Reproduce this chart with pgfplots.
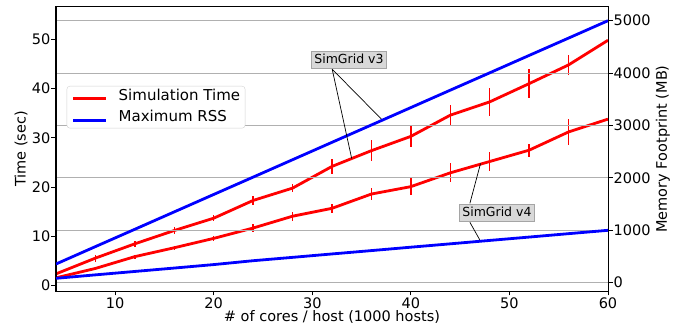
\documentclass[border=0pt]{standalone}
\usepackage{pgfplots}
\pgfplotsset{compat=1.18}
\usepackage{pgfplotstable}
\usepackage{fontspec}
\setmainfont{DejaVu Sans}
\definecolor{gridgray}{RGB}{176,176,176}
\definecolor{boxfill}{RGB}{216,216,216}
\definecolor{boxedge}{RGB}{165,165,165}
\definecolor{legedge}{RGB}{210,210,210}

% Simulation time (sec), with error
\pgfplotstableread{
x  v3   e3   v4   e4
4  2.4  0    1.6  0
8  5.6  0.7  3.5  0.3
12 8.5  0.6  5.9  0.4
16 11.2 0.7  7.7  0.4
20 13.7 0.6  9.6  0.5
24 17.3 0.9  11.7 0.9
28 19.8 0.8  14.1 0.9
32 24.2 1.5  15.7 0.9
36 27.4 2.1  18.6 1.2
40 30.3 2.2  20.1 1.7
44 34.6 2.1  22.9 1.9
48 37.3 2.9  25.2 2.0
52 41.0 3.0  27.5 1.3
56 44.8 2.1  31.2 2.6
60 49.8 0    33.8 0
}\timedata

% Maximum RSS (MB)
\pgfplotstableread{
x  m3   m4
4  357  84
8  689  150
12 1020 215
16 1352 280
20 1684 346
24 2015 420
28 2347 484
32 2679 549
36 3010 613
40 3342 678
44 3674 742
48 4005 807
52 4337 871
56 4668 936
60 5000 1000
}\memdata

\pgfplotsset{
  base/.style={
    scale only axis, width=552pt, height=284pt,
    at={(0,0)}, anchor=south west,
    xmin=4, xmax=60,
    axis line style={line width=1pt, black},
    tick style={line width=1pt, black},
    major tick length=4.5pt,
    tick align=outside,
    font=\fontsize{14.5}{17}\selectfont,
    /pgf/number format/assume math mode=true,
    /pgf/number format/1000 sep={},
    scaled y ticks=false,
  }
}

\begin{document}
\begin{tikzpicture}
\useasboundingbox (-56pt,-38pt) rectangle (626pt,291pt);

% ---------- left axis: simulation time ----------
\begin{axis}[base,
  ymin=-1.075, ymax=56.55,
  ytick={0,10,20,30,40,50},
  xtick={10,20,30,40,50,60},
  xtick pos=bottom, ytick pos=left,
  yticklabel pos=left,
  yticklabel style={inner xsep=1pt},
  xticklabel style={inner ysep=2pt},
  ylabel={Time (sec)},
  ylabel style={at={(axis description cs:-0.0634,0.5)}, anchor=center},
  xlabel={\# of cores / host (1000 hosts)},
  xlabel style={at={(axis description cs:0.5,-0.109)}, anchor=base},
]
\addplot[red, line width=2.8pt, line join=round,
  error bars/.cd, y dir=both, y explicit, error mark=none,
  error bar style={red, line width=1.3pt}]
  table[x=x, y=v3, y error=e3] {\timedata};
\addplot[red, line width=2.8pt, line join=round,
  error bars/.cd, y dir=both, y explicit, error mark=none,
  error bar style={red, line width=1.3pt}]
  table[x=x, y=v4, y error=e4] {\timedata};
\coordinate (r3) at (axis cs:34,25.8);
\coordinate (r4) at (axis cs:47.07,24.8);
\end{axis}

% ---------- right axis: memory ----------
\begin{axis}[base,
  ymin=-158, ymax=5261,
  ytick={0,1000,2000,3000,4000,5000},
  xtick=\empty,
  ytick pos=right, yticklabel pos=right,
  yticklabel style={inner xsep=1pt},
  ymajorgrids,
  major grid style={gridgray, line width=1pt},
  ylabel={Memory Footprint (MB)},
  ylabel style={at={(axis description cs:1.0996,0.5)}, anchor=center},
  legend style={at={(axis description cs:0.0194,0.722)}, anchor=north west,
    draw=legedge, rounded corners=3pt, fill=white,
    font=\fontsize{15}{17}\selectfont,
    inner xsep=5pt, inner ysep=3.2pt, row sep=7.6pt,
    nodes={inner sep=0pt, text height=11pt, text depth=3pt}},
  legend cell align=left,
  legend image code/.code={\draw[#1] (0pt,-2.5pt) -- (33pt,-2.5pt); \path (44pt,0pt);},
]
\addlegendimage{red, line width=2.8pt}
\addlegendentry{Simulation Time}
\addplot[blue, line width=2.8pt, line join=round] table[x=x, y=m3] {\memdata};
\addlegendentry{Maximum RSS}
\addplot[blue, line width=2.8pt, line join=round, forget plot] table[x=x, y=m4] {\memdata};
\coordinate (b3) at (axis cs:37,3124);
\coordinate (b4) at (axis cs:47.0,815);
\coordinate (s3) at (axis cs:32.02,4073);
\coordinate (s4a) at (axis cs:45.99,1515);
\coordinate (s4b) at (axis cs:45.99,1153);
\coordinate (c3) at (axis cs:33.72,4246);
\coordinate (c4) at (axis cs:48.73,1334);
\end{axis}

% ---------- annotations ----------
\draw[black, line width=0.7pt] (s3) -- (r3);
\draw[black, line width=0.7pt] (s3) -- (b3);
\draw[black, line width=0.7pt] (s4a) -- (r4);
\draw[black, line width=0.7pt] (s4b) -- (b4);
\node[fill=boxfill, draw=boxedge, line width=0.7pt, inner xsep=3pt, inner ysep=2.5pt,
  text height=9.5pt, text depth=2.8pt, font=\fontsize{12.5}{15}\selectfont] at (c3) {SimGrid v3};
\node[fill=boxfill, draw=boxedge, line width=0.7pt, inner xsep=3pt, inner ysep=2.5pt,
  text height=9.5pt, text depth=2.8pt, font=\fontsize{12.5}{15}\selectfont] at (c4) {SimGrid v4};
\end{tikzpicture}
\end{document}
